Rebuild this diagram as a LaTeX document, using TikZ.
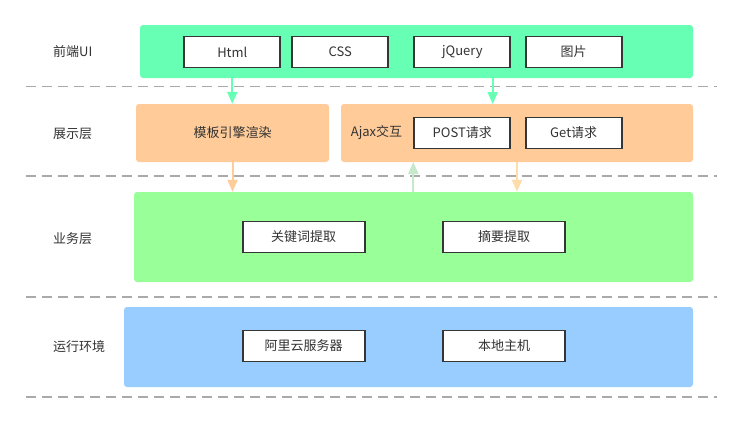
\documentclass[tikz,border=0pt]{standalone}
\usepackage{fontspec}
\setmainfont{Noto Sans CJK SC}
\usetikzlibrary{arrows.meta}
\definecolor{mint}{HTML}{66FFB3}
\definecolor{peach}{HTML}{FFCC99}
\definecolor{peachlt}{HTML}{FFDDAA}
\definecolor{lgreen}{HTML}{99FF99}
\definecolor{lblue}{HTML}{99CCFF}
\definecolor{upgreen}{HTML}{C6E8CB}
\definecolor{txt}{HTML}{333333}
\definecolor{border}{HTML}{363636}
\definecolor{dashc}{HTML}{AAAAAA}
\tikzset{
  band/.style={rounded corners=3pt, inner sep=0pt, text=txt, font=\fontsize{13pt}{15pt}\selectfont},
  wbox/.style={draw=border, line width=1.8pt, fill=white, minimum height=31pt, inner sep=0pt, text=txt, font=\fontsize{13pt}{15pt}\selectfont},
  lbl/.style={anchor=west, inner sep=0pt, text=txt, font=\fontsize{13pt}{15pt}\selectfont},
  sep/.style={draw=dashc, line width=1.6pt, dash pattern=on 10pt off 6pt},
  arr/.style={line width=2pt, -{Triangle[width=10pt,length=12pt]}},
}
\begin{document}
\begin{tikzpicture}[x=1pt,y=-1pt]
\useasboundingbox[fill=white] (0,0) rectangle (742,432);
% separators
\draw[sep] (26,86.5) -- (717,86.5);
\draw[sep] (26,176) -- (717,176);
\draw[sep] (26,297) -- (717,297);
\draw[sep] (26,397) -- (717,397);
% left labels
\node[lbl] (l1) at (53,52) {前端UI};
\node[lbl] (l2) at (53,134) {展示层};
\node[lbl] (l3) at (53,239) {业务层};
\node[lbl] (l4) at (53,347) {运行环境};
% bands
\node[band, fill=mint, minimum width=553pt, minimum height=53pt] (front) at (416.5,51.5) {};
\node[band, fill=peach, minimum width=193pt, minimum height=58pt] (tmpl) at (232.5,133) {模板引擎渲染};
\node[band, fill=peach, minimum width=352pt, minimum height=58pt] (ajax) at (517,133) {};
\node[band, fill=lgreen, minimum width=559pt, minimum height=90pt] (biz) at (413.5,237) {};
\node[band, fill=lblue, minimum width=569pt, minimum height=80pt] (env) at (408.5,347) {};
% front boxes
\node[wbox, minimum width=96pt] (html) at (232.3,52) {Html};
\node[wbox, minimum width=96pt] (css) at (340.2,52) {CSS};
\node[wbox, minimum width=96pt] (jq) at (462.3,52) {jQuery};
\node[wbox, minimum width=96pt] (img) at (573.7,52) {图片};
% ajax
\node[lbl] (ajaxt) at (350.7,133) {Ajax交互};
\node[wbox, minimum width=96pt] (post) at (462.3,133) {POST请求};
\node[wbox, minimum width=96pt] (get) at (573.7,133) {Get请求};
% business
\node[wbox, minimum width=122pt] (kw) at (303.7,237) {关键词提取};
\node[wbox, minimum width=122pt] (sum) at (504.2,237) {摘要提取};
% env
\node[wbox, minimum width=122pt] (ali) at (303.7,346) {阿里云服务器};
\node[wbox, minimum width=122pt] (loc) at (504.2,346) {本地主机};
% arrows
\coordinate (a1s) at (html |- front.south);
\coordinate (a1e) at (html |- tmpl.north);
\draw[arr, mint] (a1s) -- (a1e);
\coordinate (a2s) at (492.7,78);
\coordinate (a2e) at (492.7,104);
\draw[arr, mint] (a2s) -- (a2e);
\draw[arr, peach] (tmpl.south) -- (tmpl.south |- biz.north);
\draw[arr, peachlt] (ajax.south) -- (ajax.south |- biz.north);
\coordinate (a5s) at (413.3,192);
\coordinate (a5e) at (413.3,162);
\draw[arr, upgreen] (a5s) -- (a5e);
\end{tikzpicture}
\end{document}
